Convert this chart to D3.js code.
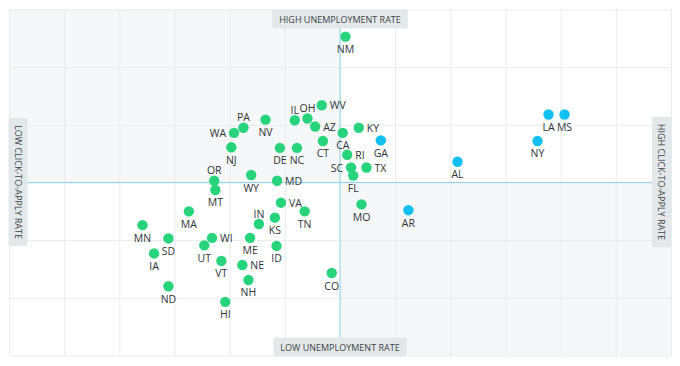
<!DOCTYPE html>
<html>
<head>
<meta charset="utf-8">
<script src="https://cdn.jsdelivr.net/npm/d3@7"></script>
<style>
  html, body { margin: 0; padding: 0; background: #fff; }
  svg { display: block; font-family: "Open Sans", sans-serif; }
</style>
</head>
<body>
<svg id="chart" width="680" height="366"></svg>
<script>
// ---- data ----
const states = ["PA","WA","NV","IL","OH","WV","AZ","CT","CA","NJ","DE","NC","OR","WY","MD","NM","KY","GA","RI","SC","TX","FL","AL","LA","MS","NY","MT","MA","VA","TN","IN","KS","MN","SD","WI","ME","ID","UT","IA","VT","NE","CO","NH","ND","HI","MO","AR"];
const clickToApply = [-1.75,-1.92,-1.35,-0.82,-0.59,-0.33,-0.45,-0.31,0.05,-1.97,-1.09,-0.78,-2.28,-1.61,-1.14,0.10,0.34,0.74,0.13,0.20,0.48,0.24,2.13,3.78,4.07,3.58,-2.26,-2.74,-1.07,-0.64,-1.47,-1.18,-3.58,-3.11,-2.32,-1.63,-1.15,-2.46,-3.37,-2.15,-1.77,-0.15,-1.66,-3.11,-2.08,0.39,1.24];
const unemployment = [0.95,0.86,1.09,1.08,1.11,1.34,0.97,0.72,0.86,0.61,0.60,0.60,0.03,0.13,0.03,2.53,0.95,0.73,0.48,0.26,0.26,0.12,0.36,1.18,1.18,0.72,-0.13,-0.50,-0.35,-0.50,-0.72,-0.61,-0.74,-0.97,-0.96,-0.96,-1.10,-1.09,-1.23,-1.36,-1.43,-1.57,-1.69,-1.80,-2.07,-0.38,-0.48];
const highlighted = ["GA","AL","LA","MS","NY","AR"];
const quadrantLabels = { top: "HIGH UNEMPLOYMENT RATE", bottom: "LOW UNEMPLOYMENT RATE", left: "LOW CLICK-TO-APPLY RATE", right: "HIGH CLICK-TO-APPLY RATE" };
const xTicks = [-6,-5,-4,-3,-2,-1,0,1,2,3,4,5,6];
const yTicks = [-3,-2,-1,0,1,2,3];
// label placement (styling)
const labelSide = { PA:"above", IL:"above", OH:"above", OR:"above", IN:"above",
  WA:"left", SC:"left",
  WV:"right", AZ:"right", MD:"right", KY:"right", RI:"right", TX:"right", VA:"right", WI:"right", NE:"right" };

// ---- chart ----
const svg = d3.select("#chart");
const x = d3.scaleLinear().domain([-6, 6]).range([9, 671]);
const y = d3.scaleLinear().domain([-3, 3]).range([355.5, 9.5]);

const g = svg.append("g");
// quadrant backgrounds
g.append("rect").attr("x", x(-6)).attr("y", y(3)).attr("width", x(0) - x(-6)).attr("height", y(0) - y(3)).attr("fill", "#f6f7f9");
g.append("rect").attr("x", x(0)).attr("y", y(0)).attr("width", x(6) - x(0)).attr("height", y(-3) - y(0)).attr("fill", "#f6f7f9");

// grid via axes
const xGrid = d3.axisBottom(x).tickValues(xTicks).tickSize(-(y(-3) - y(3))).tickFormat("");
const yGrid = d3.axisLeft(y).tickValues(yTicks).tickSize(-(x(6) - x(-6))).tickFormat("");
g.append("g").attr("transform", `translate(0,${y(-3)})`).call(xGrid)
  .call(s => s.select(".domain").remove())
  .selectAll("line").attr("stroke", "#e8ebee").attr("stroke-width", 1);
g.append("g").attr("transform", `translate(${x(-6)},0)`).call(yGrid)
  .call(s => s.select(".domain").remove())
  .selectAll("line").attr("stroke", "#e8ebee").attr("stroke-width", 1);

// center lines
g.append("line").attr("x1", x(0)).attr("x2", x(0)).attr("y1", y(3)).attr("y2", y(-3)).attr("stroke", "#8fd3ea").attr("stroke-width", 1);
g.append("line").attr("x1", x(-6)).attr("x2", x(6)).attr("y1", y(0)).attr("y2", y(0)).attr("stroke", "#8fd3ea").attr("stroke-width", 1);

// quadrant label boxes
function hBox(text, cy, top) {
  const t = g.append("text").attr("x", x(0)).attr("y", cy).attr("text-anchor", "middle")
    .attr("dominant-baseline", "central").attr("font-size", 9).attr("fill", "#3d4347").text(text);
  const w = t.node().getComputedTextLength() + 14;
  g.insert("rect", () => t.node()).attr("x", x(0) - w / 2).attr("y", cy - 9.5).attr("width", w).attr("height", 19)
    .attr("rx", 2).attr("fill", "#e3e8eb");
}
hBox(quadrantLabels.top, y(3) + 9.5, true);
hBox(quadrantLabels.bottom, y(-3) - 8.5, false);
function vBox(text, cx) {
  const cy = y(0) - 0.5;
  const t = g.append("text").attr("transform", `translate(${cx},${cy}) rotate(90)`).attr("text-anchor", "middle")
    .attr("dominant-baseline", "central").attr("font-size", 9).attr("fill", "#3d4347").text(text);
  const w = t.node().getComputedTextLength() + 14;
  g.insert("rect", () => t.node()).attr("x", cx - 9.5).attr("y", cy - w / 2).attr("width", 19).attr("height", w)
    .attr("rx", 2).attr("fill", "#e3e8eb");
}
vBox(quadrantLabels.left, x(-6) + 9);
vBox(quadrantLabels.right, x(6) - 9.5);

// points
const data = states.map((s, i) => ({ s, cx: clickToApply[i], un: unemployment[i] }));
g.selectAll("circle.pt").data(data).join("circle").attr("class", "pt")
  .attr("cx", d => x(d.cx)).attr("cy", d => y(d.un)).attr("r", 5.2)
  .attr("fill", d => highlighted.includes(d.s) ? "#12bff3" : "#27d47c");

g.selectAll("text.lbl").data(data).join("text").attr("class", "lbl")
  .attr("font-size", 10.5).attr("fill", "#2f3437")
  .attr("x", d => {
    const side = labelSide[d.s] || "below";
    if (side === "right") return x(d.cx) + 8;
    if (side === "left") return x(d.cx) - 8;
    return x(d.cx);
  })
  .attr("y", d => {
    const side = labelSide[d.s] || "below";
    if (side === "below") return y(d.un) + 12.5;
    if (side === "above") return y(d.un) - 10.5;
    return y(d.un);
  })
  .attr("text-anchor", d => {
    const side = labelSide[d.s] || "below";
    return side === "right" ? "start" : side === "left" ? "end" : "middle";
  })
  .attr("dominant-baseline", "central")
  .text(d => d.s);
</script>
</body>
</html>
